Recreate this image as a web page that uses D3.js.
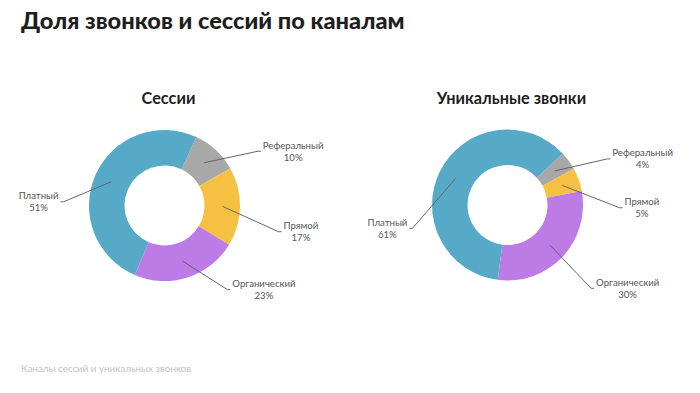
<!DOCTYPE html>
<html>
<head>
<meta charset="utf-8">
<script src="https://cdn.jsdelivr.net/npm/d3@7"></script>
<style>
  body { margin: 0; background: #fff; }
  svg { display: block; font-family: Lato, sans-serif; }
</style>
</head>
<body>
<svg id="chart" width="700" height="393"></svg>
<script>
// data
const categories = ["Реферальный", "Прямой", "Органический", "Платный"];
const sessions = [10, 17, 23, 51];
const uniqueCalls = [4, 5, 30, 61];
const palette = ["#a8a8a8", "#f6c143", "#bd7be6", "#56aac8"];

const title = "Доля звонков и сессий по каналам";
const footnote = "Каналы сессий и уникальных звонков";

const width = 700, height = 393;
const outerR = 75.5, innerR = 40;

const color = d3.scaleOrdinal(categories, palette);

// label placement: angle shift (deg) from the slice middle, and radius
const charts = [
  {
    name: "Сессии", values: sessions, cx: 164.5, cy: 205.5, start: 25,
    labelShift: [17, 12, -19, -22], labelR: [108, 117, 105, 101]
  },
  {
    name: "Уникальные звонки", values: uniqueCalls, cx: 507.5, cy: 205, start: 47,
    labelShift: [11, 21, 1.5, -41], labelR: [110, 112, 118, 98]
  }
];

const svg = d3.select("#chart");

svg.append("text")
  .attr("x", 21)
  .attr("y", 29)
  .attr("font-size", 23.6)
  .attr("font-weight", 900)
  .attr("fill", "#1e1e1e")
  .text(title);

svg.append("text")
  .attr("x", 21)
  .attr("y", 372)
  .attr("font-size", 9.8)
  .attr("fill", "#c4c4c4")
  .text(footnote);

const rad = Math.PI / 180;

charts.forEach(c => {
  const g = svg.append("g").attr("transform", `translate(${c.cx},${c.cy})`);

  svg.append("text")
    .attr("x", c.cx + 4)
    .attr("y", 104)
    .attr("text-anchor", "middle")
    .attr("font-size", 16.3)
    .attr("font-weight", 700)
    .attr("fill", "#1e1e1e")
    .text(c.name);

  const pie = d3.pie()
    .sort(null)
    .value(d => d.value)
    .startAngle(c.start * rad)
    .endAngle(c.start * rad + 2 * Math.PI);

  const arcs = pie(categories.map((k, i) => ({ key: k, value: c.values[i] })));

  const arc = d3.arc().innerRadius(innerR).outerRadius(outerR);
  const midArc = d3.arc().innerRadius((innerR + outerR) / 2 + 0.5).outerRadius((innerR + outerR) / 2 + 0.5);

  g.selectAll("path.slice")
    .data(arcs)
    .join("path")
    .attr("class", "slice")
    .attr("d", arc)
    .attr("fill", d => color(d.data.key));

  arcs.forEach((d, i) => {
    const mid = (d.startAngle + d.endAngle) / 2;
    const a = mid + c.labelShift[i] * rad;
    const r = c.labelR[i];
    const p0 = midArc.centroid(d);
    const p1 = [Math.sin(a) * r, -Math.cos(a) * r];
    const right = Math.sin(a) >= 0;
    const dir = right ? 1 : -1;
    const p2 = [p1[0] + dir * 3, p1[1]];

    g.append("path")
      .attr("d", d3.line()([p0, p1, p2]))
      .attr("fill", "none")
      .attr("stroke", "#666")
      .attr("stroke-width", 1);

    const lab = g.append("text")
      .attr("font-size", 9.6)
      .attr("fill", "#555")
      .attr("text-anchor", "middle");
    const l1 = lab.append("tspan").text(d.data.key);
    const l2 = lab.append("tspan").text(d.data.value + "%");
    const w = Math.max(l1.node().getComputedTextLength(), l2.node().getComputedTextLength());
    const tx = right ? p2[0] + 2 + w / 2 : p2[0] - 2 - w / 2;
    l1.attr("x", tx).attr("y", p1[1] - 2.5);
    l2.attr("x", tx).attr("y", p1[1] + 9.5);
  });
});
</script>
</body>
</html>
